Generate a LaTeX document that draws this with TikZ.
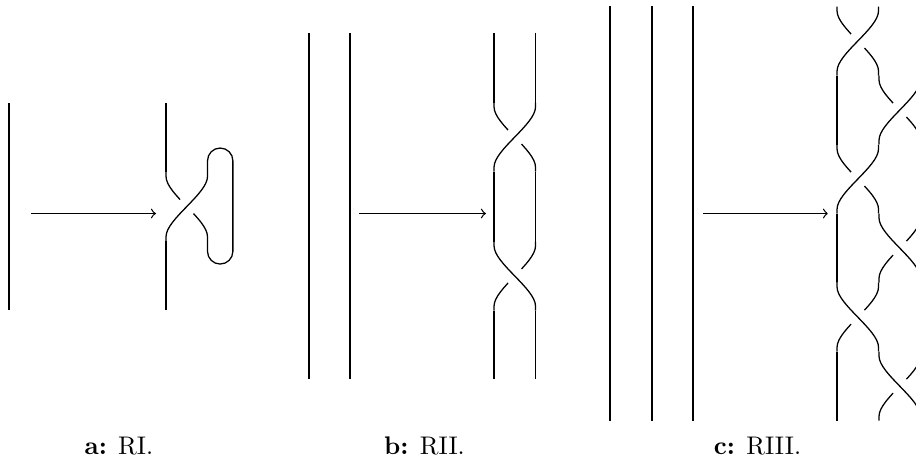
\documentclass[tikz,border=0pt]{standalone}

\newcommand{\crw}{0.286}  % half the strand gap
\newcommand{\crh}{0.415}  % half the height of a crossing
\newcommand{\crc}{0.24}   % control distance
\newcommand{\lvh}{0.476}  % half the height of one braid level

\begin{document}
\begin{tikzpicture}[line width=0.5pt,
	overstrand/.style={preaction={draw,white,line width=7.5pt}},
	lbl/.style={anchor=base},
	crossp/.pic={
		\draw (-\crw,\lvh) -- (-\crw,\crh) .. controls +(0,-\crc) and +(0,\crc) .. (\crw,-\crh) -- (\crw,-\lvh);
		\draw[overstrand] (\crw,\lvh) -- (\crw,\crh) .. controls +(0,-\crc) and +(0,\crc) .. (-\crw,-\crh) -- (-\crw,-\lvh);
	},
	crossn/.pic={
		\draw (\crw,\lvh) -- (\crw,\crh) .. controls +(0,-\crc) and +(0,\crc) .. (-\crw,-\crh) -- (-\crw,-\lvh);
		\draw[overstrand] (-\crw,\lvh) -- (-\crw,\crh) .. controls +(0,-\crc) and +(0,\crc) .. (\crw,-\crh) -- (\crw,-\lvh);
	}]
	
	\clip (0,0) rectangle (12.634,6.483);
	
	% a: RI
	\coordinate (a1) at (0.428,3.538);
	\coordinate (a2) at (2.152,3.538);
	\draw (0.124,5.062) -- (0.124,2.207);
	\draw[->] (a1) -- (a2);
	\pic at (2.576,3.634) {crossp};
	\draw (2.29,5.062) -- (2.29,4.11);
	\draw (2.29,3.158) -- (2.29,2.207);
	\draw (2.862,4.11) -- (2.862,4.266) arc[start angle=180,end angle=0,radius=0.175]
		-- (3.212,3.016) arc[start angle=0,end angle=-180,radius=0.175] -- (2.862,3.158);
	
	% b: RII
	\coordinate (b1) at (4.952,3.538);
	\coordinate (b2) at (6.703,3.538);
	\foreach \x in {4.262,4.828}
		\draw (\x,6.028) -- (\x,1.255);
	\draw[->] (b1) -- (b2);
	\pic at (7.1,4.593) {crossp};
	\pic at (7.1,2.676) {crossn};
	\foreach \x in {6.814,7.386}
		\draw (\x,6.028) -- (\x,5.069) (\x,4.117) -- (\x,3.152) (\x,2.2) -- (\x,1.255);
	
	% c: RIII
	\coordinate (c1) at (9.697,3.538);
	\coordinate (c2) at (11.421,3.538);
	\foreach \x in {8.414,8.993,9.559}
		\draw (\x,6.4) -- (\x,0.676);
	\draw[->] (c1) -- (c2);
	\foreach \k/\l/\i in {0/11.545/12.703,1/12.124/11.545,2/11.545/12.703} {
		\pic at ({\l+\crw},{5.917-0.952*\k}) {crossp};
		\draw (\i,{5.917-0.952*\k+\lvh}) -- +(0,-0.952);
	}
	\foreach \k/\l/\i in {3/12.124/11.545,4/11.545/12.703,5/12.124/11.545} {
		\pic at ({\l+\crw},{5.917-0.952*\k}) {crossn};
		\draw (\i,{5.917-0.952*\k+\lvh}) -- +(0,-0.952);
	}
	
	\node[lbl] (capa) at (1.64,0.21) {\textbf{a:} RI.};
	\node[lbl] (capb) at (5.855,0.21) {\textbf{b:} RII.};
	\node[lbl] (capc) at (10.448,0.21) {\textbf{c:} RIII.};
\end{tikzpicture}
\end{document}
